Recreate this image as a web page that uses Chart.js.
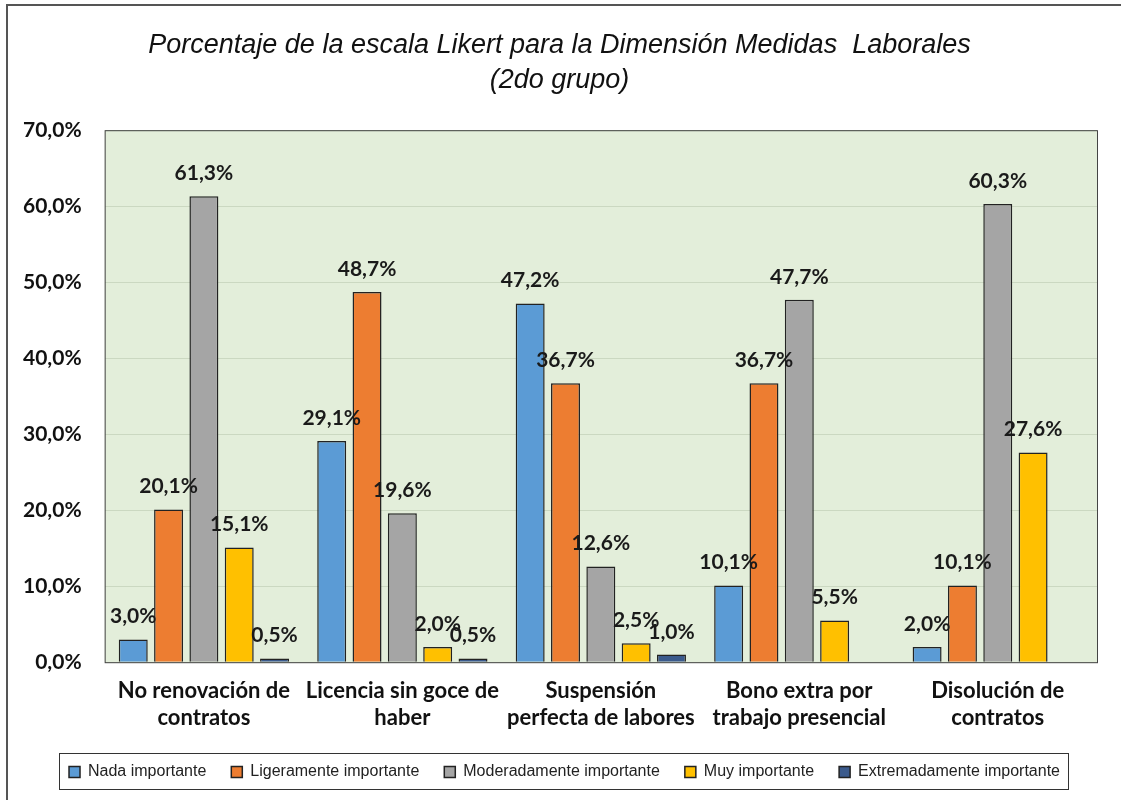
<!DOCTYPE html>
<html>
    <head>
        <meta charset="UTF-8">
        <title>Escala Likert - Medidas Laborales</title>
        <script src="https://cdn.jsdelivr.net/npm/chart.js"></script>
        <style>
            html, body { margin: 0; padding: 0; background: #fff; }
            #wrap { position: relative; width: 1121px; height: 800px; }
        </style>
    </head>
    <body>
        <div id="wrap">
            <canvas id="likertChart" width="1121" height="800"></canvas>
        </div>
        <script>
        // categorias (eje x) y series
        const categorias = [
            ['No renovación de', 'contratos'],
            ['Licencia sin goce de', 'haber'],
            ['Suspensión', 'perfecta de labores'],
            ['Bono extra por', 'trabajo presencial'],
            ['Disolución de', 'contratos']
        ];
        const nadaImportante = [3.0, 29.1, 47.2, 10.1, 2.0];
        const ligeramenteImportante = [20.1, 48.7, 36.7, 36.7, 10.1];
        const moderadamenteImportante = [61.3, 19.6, 12.6, 47.7, 60.3];
        const muyImportante = [15.1, 2.0, 2.5, 5.5, 27.6];
        const extremadamenteImportante = [0.5, 0.5, 1.0, null, null];
        const nombresSeries = ['Nada importante', 'Ligeramente importante', 'Moderadamente importante', 'Muy importante', 'Extremadamente importante'];
        const colores = ['#5B9BD5', '#ED7D31', '#A5A5A5', '#FFC000', '#3B5A8C'];
        const ticksY = [0, 10, 20, 30, 40, 50, 60, 70];

        function fmt(v) {
            return v.toFixed(1).replace('.', ',') + '%';
        }

        // fondo verde del area de trazado + marco exterior
        const fondoPlugin = {
            id: 'fondo',
            afterLayout(chart) {
                // titulo y leyenda centrados en la pagina, no en el area con padding
                const t = chart.titleBlock;
                if (t) { t.left += 11; t.right += 11; }
                const lg = chart.legend;
                if (lg) { lg.left += 16; lg.right += 16; }
            },
            beforeDraw(chart) {
                const {ctx, chartArea} = chart;
                ctx.save();
                ctx.fillStyle = '#E3EEDA';
                ctx.fillRect(chartArea.left, chartArea.top, chartArea.right - chartArea.left, chartArea.bottom - chartArea.top);
                ctx.strokeStyle = '#555';
                ctx.lineWidth = 2;
                ctx.strokeRect(7, 5, 1300, 1000);
                ctx.restore();
            },
            afterDatasetsDraw(chart) {
                const {ctx, chartArea} = chart;
                ctx.save();
                ctx.strokeStyle = '#444';
                ctx.lineWidth = 1;
                ctx.strokeRect(chartArea.left + 0.5, chartArea.top + 0.5, chartArea.right - chartArea.left, chartArea.bottom - chartArea.top);
                ctx.restore();
            }
        };

        // etiquetas de datos sobre las barras
        const etiquetasPlugin = {
            id: 'etiquetas',
            afterDraw(chart) {
                const ctx = chart.ctx;
                ctx.save();
                ctx.font = 'bold 21px Lato, "Noto Sans", sans-serif';
                ctx.fillStyle = '#1a1a1a';
                ctx.textAlign = 'center';
                ctx.textBaseline = 'alphabetic';
                chart.data.datasets.forEach((ds, i) => {
                    const meta = chart.getDatasetMeta(i);
                    meta.data.forEach((bar, j) => {
                        const v = ds.data[j];
                        if (v === null || v === undefined) return;
                        ctx.fillText(fmt(v), bar.x, bar.y - 16);
                    });
                });
                ctx.restore();
            }
        };

        // recuadro de la leyenda
        const cajaLeyendaPlugin = {
            id: 'cajaLeyenda',
            afterDraw(chart) {
                const lg = chart.legend;
                if (!lg || !lg.legendHitBoxes || !lg.legendHitBoxes.length) return;
                const hb = lg.legendHitBoxes;
                const x0 = Math.min(...hb.map(b => b.left)) - 10;
                const x1 = Math.max(...hb.map(b => b.left + b.width)) + 8;
                const y0 = Math.min(...hb.map(b => b.top)) - 11;
                const y1 = Math.max(...hb.map(b => b.top + b.height)) + 9;
                const ctx = chart.ctx;
                ctx.save();
                ctx.strokeStyle = '#333';
                ctx.lineWidth = 1;
                ctx.strokeRect(Math.round(x0) + 0.5, Math.round(y0) + 0.5, Math.round(x1 - x0), Math.round(y1 - y0));
                ctx.restore();
            }
        };

        const series = [nadaImportante, ligeramenteImportante, moderadamenteImportante, muyImportante, extremadamenteImportante];

        new Chart(document.getElementById('likertChart'), {
            type: 'bar',
            data: {
                labels: categorias,
                datasets: series.map((d, i) => ({
                    label: nombresSeries[i],
                    data: d,
                    backgroundColor: colores[i],
                    borderColor: '#222',
                    borderWidth: 1.5,
                    categoryPercentage: 0.89,
                    barPercentage: 0.82
                }))
            },
            options: {
                responsive: false,
                animation: false,
                layout: { padding: { left: 0, right: 24, top: 0, bottom: 10 } },
                plugins: {
                    title: {
                        display: true,
                        text: ['Porcentaje de la escala Likert para la Dimensión Medidas  Laborales', '(2do grupo)'],
                        color: '#111',
                        font: { family: '"Liberation Sans Narrow", "Liberation Sans", Arial, sans-serif', size: 27, style: 'italic', weight: 'normal', lineHeight: 1.3 },
                        padding: { top: 28, bottom: 32 }
                    },
                    legend: {
                        display: true,
                        position: 'bottom',
                        labels: {
                            color: '#222',
                            boxWidth: 11,
                            boxHeight: 11,
                            padding: 25,
                            font: { family: '"Liberation Sans Narrow", "Liberation Sans", Arial, sans-serif', size: 16 }
                        }
                    },
                    tooltip: { enabled: false }
                },
                scales: {
                    x: {
                        grid: { display: false },
                        border: { display: false },
                        ticks: {
                            color: '#111',
                            font: { family: 'Lato, "Noto Sans", sans-serif', size: 22, weight: 'bold', lineHeight: 1.2 },
                            maxRotation: 0,
                            autoSkip: false,
                            padding: 8
                        }
                    },
                    y: {
                        min: ticksY[0],
                        max: ticksY[ticksY.length - 1],
                        afterBuildTicks(axis) {
                            axis.ticks = ticksY.map(v => ({ value: v }));
                        },
                        grid: { color: '#CBD8C1', drawTicks: false },
                        border: { display: false },
                        ticks: {
                            color: '#111',
                            font: { family: 'Lato, "Noto Sans", sans-serif', size: 21, weight: 'bold' },
                            padding: 23,
                            callback: v => fmt(v)
                        }
                    }
                }
            },
            plugins: [fondoPlugin, etiquetasPlugin, cajaLeyendaPlugin]
        });
        </script>
    </body>
</html>
